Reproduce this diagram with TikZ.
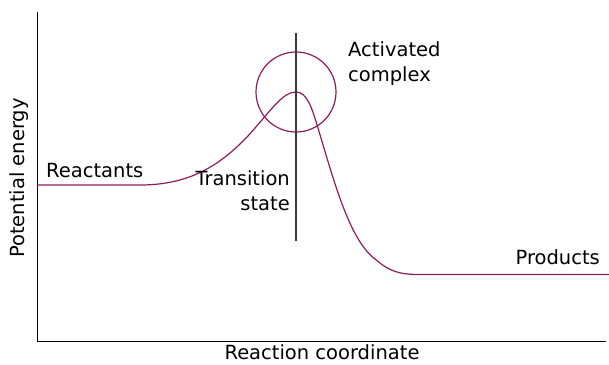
\documentclass[tikz,border=0pt]{standalone}
\usepackage{fontspec}
\setmainfont{DejaVu Sans}
\definecolor{curvec}{HTML}{8E1B5C}
\definecolor{tsline}{HTML}{3A3A3A}
\begin{document}
\begin{tikzpicture}[x=1pt,y=-1pt,
  lbl/.style={inner sep=0pt,font=\fontsize{19.5}{25}\selectfont},
  axisline/.style={line width=1pt,black},
  energy/.style={line width=1.2pt,curvec},
  tsmark/.style={line width=1.5pt,tsline}]
\useasboundingbox (0,0) rectangle (609,364);
\coordinate (origin) at (37,341);
\coordinate (ytop) at (37,12);
\coordinate (xend) at (606,341);
\draw[axisline] (ytop) -- (origin) -- (xend);
\coordinate (peak) at (296,92);
\draw[energy] (37,185) -- (140,185)
  .. controls (190,185) and (220,165) .. (247,137)
  .. controls (270,112) and (282,92) .. (peak)
  .. controls (307,92) and (312,108) .. (318,128)
  .. controls (335,185) and (350,240) .. (375,259)
  .. controls (390,272) and (400,274.5) .. (420,274.5)
  -- (609,274.5);
\draw[energy] (peak) circle[radius=40];
\coordinate (tstop) at (296,33);
\coordinate (tsbot) at (296,241);
\draw[tsmark] (tstop) -- (tsbot);
\node[lbl,anchor=base west] (react) at (46,177) {Reactants};
\node[lbl,anchor=base east] (prod) at (600,264) {Products};
\node[lbl,anchor=base west,align=left] (ac) at (348,81) {Activated\\complex};
\node[lbl,anchor=base east,align=right] (ts) at (290,210.5) {Transition\\state};
\node[lbl,anchor=base] (xl) at (322,359.5) {Reaction coordinate};
\node[lbl,anchor=base,rotate=90] (yl) at (24,178) {Potential energy};
\end{tikzpicture}
\end{document}
